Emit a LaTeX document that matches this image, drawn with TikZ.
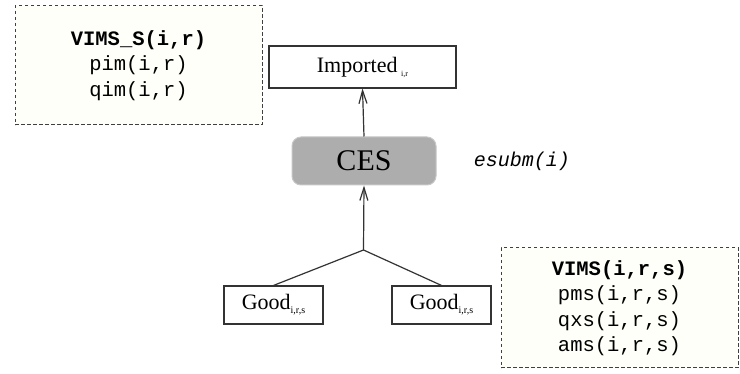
\documentclass[tikz,border=0pt]{standalone}
\usepackage{fontspec}
\setmainfont{Liberation Serif}
\setmonofont{Liberation Mono}
\usetikzlibrary{arrows.meta}
\tikzset{
  plainbox/.style={draw=black!80, line width=1.1pt, fill=white, inner sep=0pt,
    font=\fontsize{22}{26}\selectfont},
  infobox/.style={draw=black!75, line width=1pt, dash pattern=on 3.5pt off 2.5pt,
    fill=yellow!2, inner sep=0pt, align=center,
    font=\fontsize{20.5}{25.5}\selectfont\ttfamily},
  cesbox/.style={draw=black!22, line width=1pt, fill=black!32, rounded corners=9pt,
    inner sep=0pt, font=\fontsize{30}{30}\selectfont},
  conn/.style={draw=black!80, line width=1.2pt},
  arr/.style={conn, -{Straight Barb[length=13pt,width=8pt,line width=1.2pt]}},
  lbl/.style={font=\fontsize{20}{24}\selectfont\ttfamily\itshape}
}
\newcommand{\subtxt}[2]{\raisebox{-4pt}{\fontsize{#1}{#1}\selectfont #2}}
\begin{document}
\begin{tikzpicture}[x=1pt,y=-1pt]
\useasboundingbox (0,0) rectangle (740,374);
\fill[white] (0,0) rectangle (740,374);

\node[infobox, minimum width=247pt, minimum height=119pt] (vs) at (138.5,65.5)
  {\textbf{VIMS\_S(i,r)}\\pim(i,r)\\qim(i,r)};
\node[infobox, minimum width=237pt, minimum height=120pt] (v) at (619.5,308)
  {\textbf{VIMS(i,r,s)}\\pms(i,r,s)\\qxs(i,r,s)\\ams(i,r,s)};

\node[plainbox, minimum width=187pt, minimum height=42pt] (imp) at (362.5,67)
  {Imported\,\subtxt{8}{i,r}};
\node[cesbox, minimum width=144pt, minimum height=48pt] (ces) at (364,161) {CES};
\node[lbl] (es) at (522,161) {esubm(i)};

\node[plainbox, minimum width=99pt, minimum height=38pt] (g1) at (273.5,305)
  {Good\subtxt{10}{i,r,s}};
\node[plainbox, minimum width=99pt, minimum height=38pt] (g2) at (441.5,305)
  {Good\subtxt{10}{i,r,s}};

\coordinate (j) at (363.5,250);
\draw[arr] (ces.north) -- (imp.south);
\draw[arr] (j) -- (ces.south);
\draw[conn] (g1.north) -- (j) -- (g2.north);
\end{tikzpicture}
\end{document}
